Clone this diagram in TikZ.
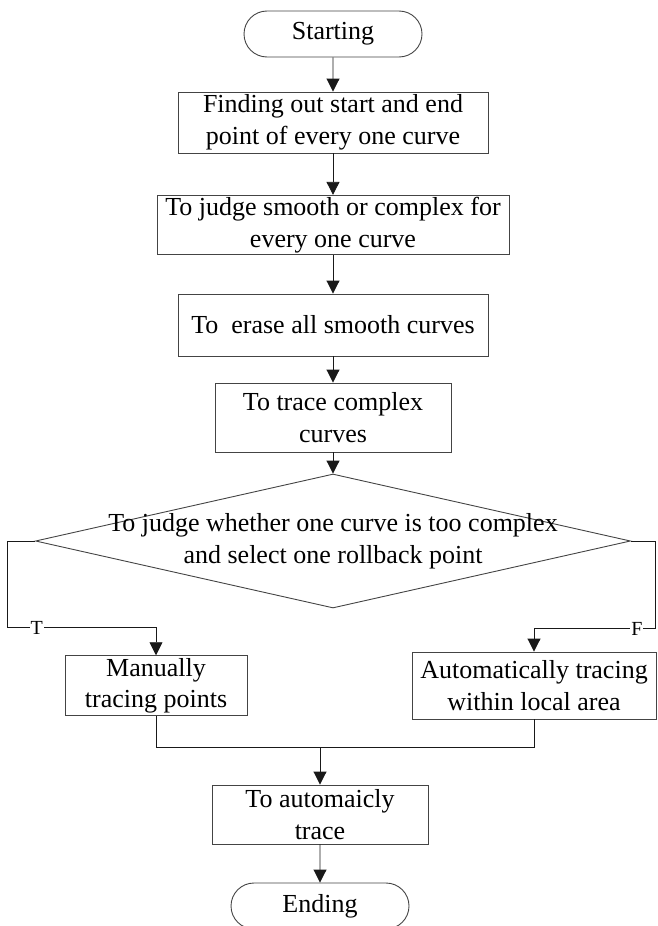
\documentclass[tikz,border=0pt]{standalone}
\usepackage{fontspec}
\setmainfont{Liberation Serif}
\usepackage{tikz}
\usetikzlibrary{arrows.meta,positioning,calc,shapes.misc,shapes.geometric}
\definecolor{LineGrey}{HTML}{444444}

\begin{document}
\begin{tikzpicture}[x=1pt,y=-1pt,
  box/.style={draw=LineGrey,line width=0.9pt,align=center,inner sep=2pt,font=\fontsize{26}{31.5}\selectfont},
  term/.style={box,rounded rectangle,minimum width=182pt,minimum height=46pt},
  arr/.style={draw=black!90,line width=0.9pt,-{Triangle[length=13pt,width=13pt]}},
  lbl/.style={fill=white,inner sep=1pt,font=\fontsize{20}{20}\selectfont}]
  \useasboundingbox (0,0) rectangle (657,926);
  % main chain
  \node[term] (start) at (333,34) {Starting};
  \node[box,minimum width=310pt,minimum height=61pt] (find) at (333,122.5) {Finding out start and end\\point of every one curve};
  \node[box,minimum width=352pt,minimum height=56pt] (judge) at (333,225) {To judge smooth or complex for\\every one curve};
  \node[box,minimum width=310pt,minimum height=62pt] (erase) at (333,325) {To~ erase all smooth curves};
  \node[box,minimum width=236pt,minimum height=69pt] (trace) at (333,417.5) {To trace complex\\curves};
  \node[draw=LineGrey,line width=0.9pt,diamond,inner sep=0pt,minimum width=595pt,minimum height=134pt] (dj) at (333,541) {};
  \node[align=center,font=\fontsize{26}{31.5}\selectfont] (djtext) at (dj.center) {To judge whether one curve is too complex\\and select one rollback point};
  % branches
  \node[box,minimum width=182pt,minimum height=60pt] (manual) at (156,685.7) {Manually\\tracing points};
  \node[box,minimum width=244pt,minimum height=67pt] (auto) at (534,685.5) {Automatically tracing\\within local area};
  \node[box,minimum width=216pt,minimum height=59pt] (final) at (320,814.5) {To automaicly\\trace};
  \node[term] (ending) at (320,906) {Ending};
  \coordinate (join) at (320,747);
  \draw[arr] (start) -- (find);
  \draw[arr] (find) -- (judge);
  \draw[arr] (judge) -- (erase);
  \draw[arr] (erase) -- (trace);
  \draw[arr] (trace) -- (dj);
  \draw[arr] (dj.west) -- ++(-28,0) |- ([yshift=27.7pt]manual.north) node[pos=0.6,lbl]{T} -- (manual.north);
  \draw[arr] (dj.east) -- ++(24,0) |- ([yshift=23pt]auto.north) node[pos=0.575,lbl]{F} -- (auto.north);
  \draw[draw=black!90,line width=0.9pt] (manual.south) |- (join) -| (auto.south);
  \draw[arr] (join) -- (final);
  \draw[arr] (final) -- (ending);
\end{tikzpicture}
\end{document}
